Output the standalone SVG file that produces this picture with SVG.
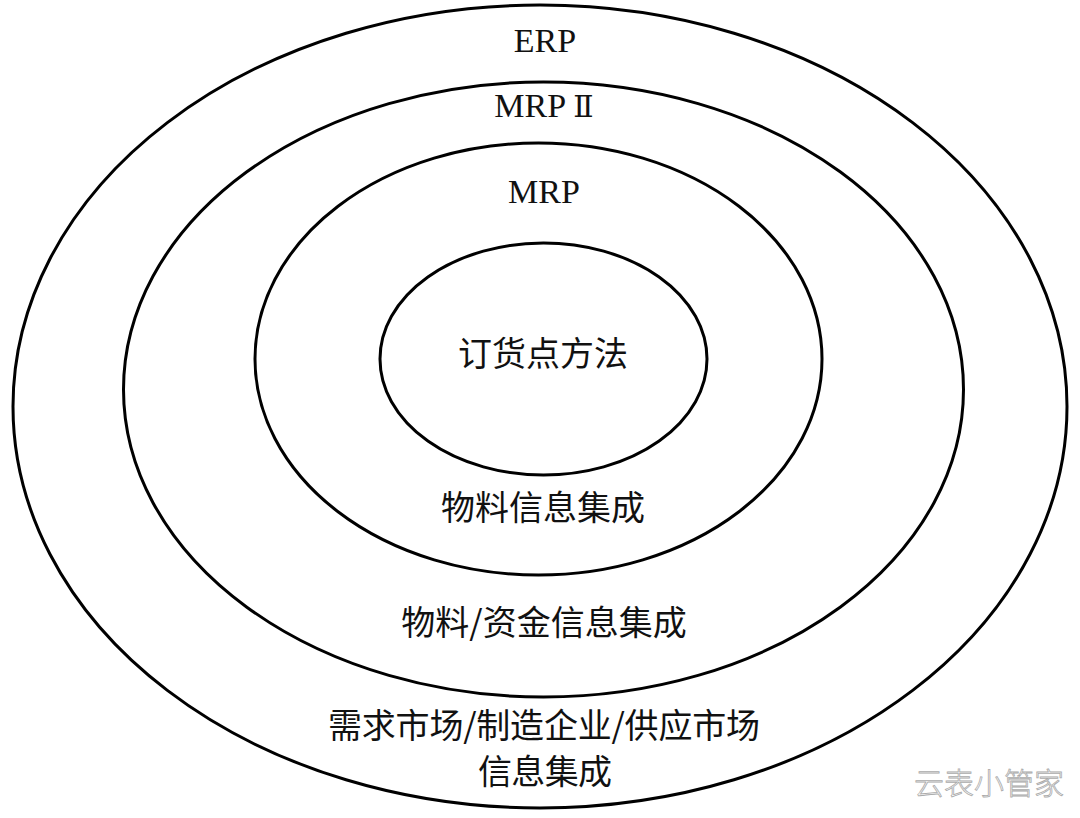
<svg xmlns="http://www.w3.org/2000/svg" width="1080" height="818" viewBox="0 0 1080 818">
<style>
.ring{fill:none;stroke:#000;stroke-width:3}
.lat{font-family:"Liberation Serif","Times New Roman",serif;font-size:34px;fill:#111;text-anchor:middle}
.cjk{font-family:"Noto Sans CJK SC","Noto Sans",sans-serif;font-size:34px;fill:#111;text-anchor:middle}
.wm{font-family:"Noto Sans CJK SC",sans-serif;font-size:30px;font-weight:300;fill:#fff;stroke:#aaa;stroke-width:0.8;text-anchor:middle}
</style>
<rect width="1080" height="818" fill="#fff"/>
<g id="erp">
<ellipse class="ring" cx="540" cy="406.5" rx="527" ry="401.5"/>
<text class="lat" x="545" y="52">ERP</text>
<text class="cjk" x="544" y="738" font-size="32" textLength="432">需求市场/制造企业/供应市场</text>
<text class="cjk" x="545" y="784" font-size="32" textLength="134">信息集成</text>
</g>
<g id="mrp2">
<ellipse class="ring" cx="543.5" cy="389.5" rx="420" ry="307.5"/>
<text class="lat" x="544" y="117">MRP <tspan font-family="'DejaVu Serif',serif" font-size="30">Ⅱ</tspan></text>
<text class="cjk" x="544" y="635">物料/资金信息集成</text>
</g>
<g id="mrp">
<ellipse class="ring" cx="538.5" cy="359" rx="283.5" ry="216"/>
<text class="lat" x="544" y="203">MRP</text>
<text class="cjk" x="543" y="520">物料信息集成</text>
</g>
<g id="rop">
<ellipse class="ring" cx="543.5" cy="359" rx="163.5" ry="116"/>
<text class="cjk" x="543" y="366">订货点方法</text>
</g>
<g id="connectors"/>
<text class="wm" x="989" y="794">云表小管家</text>
</svg>
